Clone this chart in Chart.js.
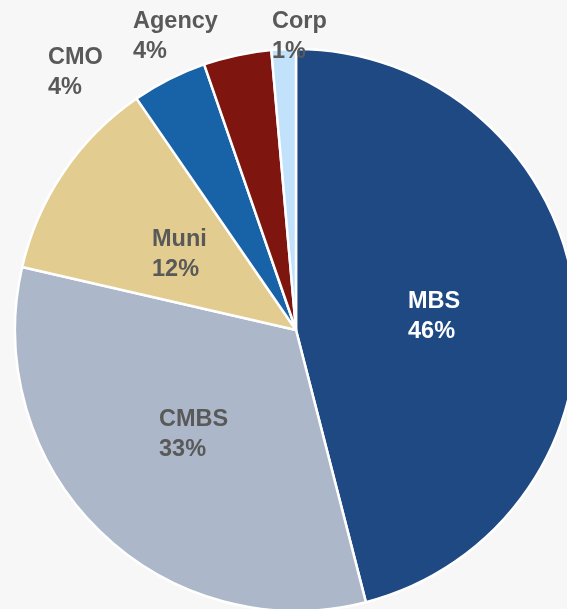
<!DOCTYPE html>
<html>
<head>
<meta charset="utf-8">
<script src="https://cdn.jsdelivr.net/npm/chart.js@4/dist/chart.umd.min.js"></script>
<style>
  html, body { margin: 0; padding: 0; background: #f7f7f7; }
  #wrap { width: 567px; height: 609px; position: relative; }
</style>
</head>
<body>
<div id="wrap"><canvas id="pie"></canvas></div>
<script>
// sector data, clockwise from 12 o'clock
const categories = ['MBS', 'CMBS', 'Muni', 'CMO', 'Agency', 'Corp'];
const shares = [46.0, 32.6, 11.8, 4.3, 3.9, 1.4];
const shareLabels = ['46%', '33%', '12%', '4%', '4%', '1%'];

const sliceColors = ['#1f4983', '#acb7c9', '#e2cc8f', '#1862a8', '#7e160f', '#c2e2fb'];
const labelColors = ['#ffffff', '#595959', '#595959', '#595959', '#595959', '#595959'];
// left edge + first baseline of each two-line label
const labelPos = [
  { x: 408, y: 308 },
  { x: 159, y: 426 },
  { x: 152, y: 246 },
  { x: 48, y: 64 },
  { x: 133, y: 28 },
  { x: 272, y: 28 }
];

const labelPlugin = {
  id: 'sliceLabels',
  afterDatasetsDraw(chart) {
    const ctx = chart.ctx;
    ctx.save();
    ctx.font = 'bold 23.5px "Liberation Sans", Arial, sans-serif';
    ctx.textAlign = 'left';
    ctx.textBaseline = 'alphabetic';
    categories.forEach(function(name, i) {
      const p = labelPos[i];
      ctx.fillStyle = labelColors[i];
      ctx.fillText(name, p.x, p.y);
      ctx.fillText(shareLabels[i], p.x, p.y + 29.5);
    });
    ctx.restore();
  }
};

new Chart(document.getElementById('pie'), {
  type: 'pie',
  data: {
    labels: categories,
    datasets: [{
      data: shares,
      backgroundColor: sliceColors,
      borderColor: '#ffffff',
      borderWidth: 2.5
    }]
  },
  options: {
    responsive: true,
    maintainAspectRatio: false,
    animation: false,
    radius: 281,
    layout: {
      padding: { left: 25, right: 0, top: 51, bottom: 0 }
    },
    plugins: {
      legend: { display: false },
      tooltip: { enabled: false }
    }
  },
  plugins: [labelPlugin]
});
</script>
</body>
</html>
